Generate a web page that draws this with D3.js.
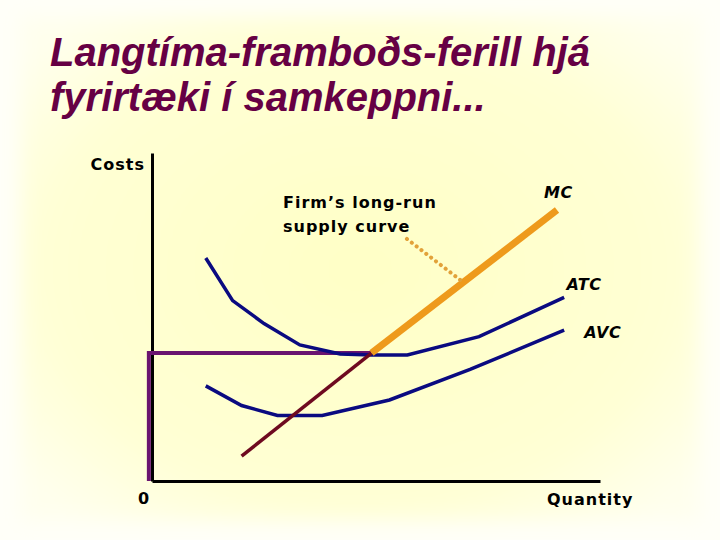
<!DOCTYPE html>
<html>
<head>
<meta charset="utf-8">
<script src="https://cdn.jsdelivr.net/npm/d3@7"></script>
<style>
html, body { margin: 0; padding: 0; background: #FFFFF8; }
svg { display: block; }
</style>
</head>
<body>
<svg id="chart" width="720" height="540"></svg>
<script>
// ---- data (abstract units: quantity 0-100, cost 0-100) ----
const titleLines = ["Langtíma-framboðs-ferill hjá", "fyrirtæki í samkeppni..."];
const atc = [[12,68],[18,55],[25,48],[33,41.5],[42,38.7],[49,38.4],[57,38.4],[73,44],[92,56]];
const avc = [[12,29],[20,23],[28,20],[38,20],[53,24.7],[71,34],[92,46]];
const mcLower = [[20,7.6],[49,39]];
const mcUpper = [[49,39],[90.4,82.6]];
const shutdownPrice = 39;      // level of the purple line (min ATC)
const shutdownQty = 49;
const pointer = [[56.9,73.8],[68.8,61.3]];
const curveLabels = [
  {text: "MC",  q: 87.5, c: 86.5},
  {text: "ATC", q: 92.5, c: 58.5},
  {text: "AVC", q: 96.5, c: 44},
];
const supplyLabel = ["Firm’s long-run", "supply curve"];

const svg = d3.select("#chart");
const defs = svg.append("defs");

// background
const rg = defs.append("radialGradient").attr("id","bg").attr("cx","50%").attr("cy","50%").attr("r","65%");
rg.append("stop").attr("offset","0%").attr("stop-color","#FFFFC6");
rg.append("stop").attr("offset","70%").attr("stop-color","#FFFFD4");
rg.append("stop").attr("offset","100%").attr("stop-color","#FFFFEE");
const blur = defs.append("filter").attr("id","soft").attr("x","-10%").attr("y","-10%").attr("width","120%").attr("height","120%");
blur.append("feGaussianBlur").attr("stdDeviation", 10);
svg.append("rect").attr("x",0).attr("y",0).attr("width",720).attr("height",540).attr("fill","#FFFFF8");
svg.append("rect").attr("x",20).attr("y",16).attr("width",680).attr("height",505)
   .attr("fill","url(#bg)").attr("filter","url(#soft)");

// title
svg.append("g").selectAll("text").data(titleLines).join("text")
  .attr("x", 50).attr("y", (d,i) => 66 + i*45)
  .attr("font-family", "Liberation Sans, Arial, sans-serif")
  .attr("font-weight", "bold").attr("font-style", "italic")
  .attr("font-size", 40).attr("fill", "#660044")
  .text(d => d);

// scales
const x = d3.scaleLinear().domain([0,100]).range([152,600]);
const y = d3.scaleLinear().domain([0,100]).range([481,153]);
const line = d3.line().x(d => x(d[0])).y(d => y(d[1]));

// axes (plain lines, no ticks)
const xAxis = d3.axisBottom(x).tickValues([]).tickSizeOuter(0);
const yAxis = d3.axisLeft(y).tickValues([]).tickSizeOuter(0);
svg.append("g").attr("transform",`translate(0,${y(0)})`).call(xAxis)
   .select(".domain").attr("stroke","#000").attr("stroke-width",3);
svg.append("g").attr("transform",`translate(${x(0)},0)`).call(yAxis)
   .select(".domain").attr("stroke","#000").attr("stroke-width",3);

// purple price line
svg.append("path")
  .attr("d", line([[-0.7,0],[-0.7,shutdownPrice],[shutdownQty,shutdownPrice]]))
  .attr("fill","none").attr("stroke","#6A1470").attr("stroke-width",4);

// ATC, AVC
svg.append("path").attr("d", line(atc)).attr("fill","none").attr("stroke","#0A0A80").attr("stroke-width",3.5);
svg.append("path").attr("d", line(avc)).attr("fill","none").attr("stroke","#0A0A80").attr("stroke-width",3.5);

// MC lower (dark red) and upper (orange)
svg.append("path").attr("d", line(mcLower)).attr("fill","none").attr("stroke","#6E0A20").attr("stroke-width",3.5);
svg.append("path").attr("d", line(mcUpper)).attr("fill","none").attr("stroke","#EE9A1C").attr("stroke-width",7);

// dotted pointer
svg.append("path").attr("d", line(pointer)).attr("fill","none")
  .attr("stroke","#E2A23A").attr("stroke-width",4).attr("stroke-linecap","round").attr("stroke-dasharray","0.1,6");

// labels
const labFont = "DejaVu Sans, Verdana, sans-serif";
function lab(sel){ return sel.attr("font-family",labFont).attr("font-weight","bold").attr("font-size",16).attr("letter-spacing",1); }
lab(svg.append("text").attr("x",145).attr("y",170).attr("text-anchor","end")).text("Costs");
lab(svg.append("text").attr("x",144).attr("y",504).attr("text-anchor","middle")).text("0");
lab(svg.append("text").attr("x",547).attr("y",505)).text("Quantity");
lab(svg.append("g").selectAll("text").data(supplyLabel).join("text")
  .attr("x",283).attr("y",(d,i)=>208+i*24)).text(d=>d);
lab(svg.append("g").selectAll("text").data(curveLabels).join("text")
  .attr("x", d => x(d.q)).attr("y", d => y(d.c) + 1))
  .attr("font-style","italic").attr("letter-spacing",0.5).text(d => d.text);
</script>
</body>
</html>
